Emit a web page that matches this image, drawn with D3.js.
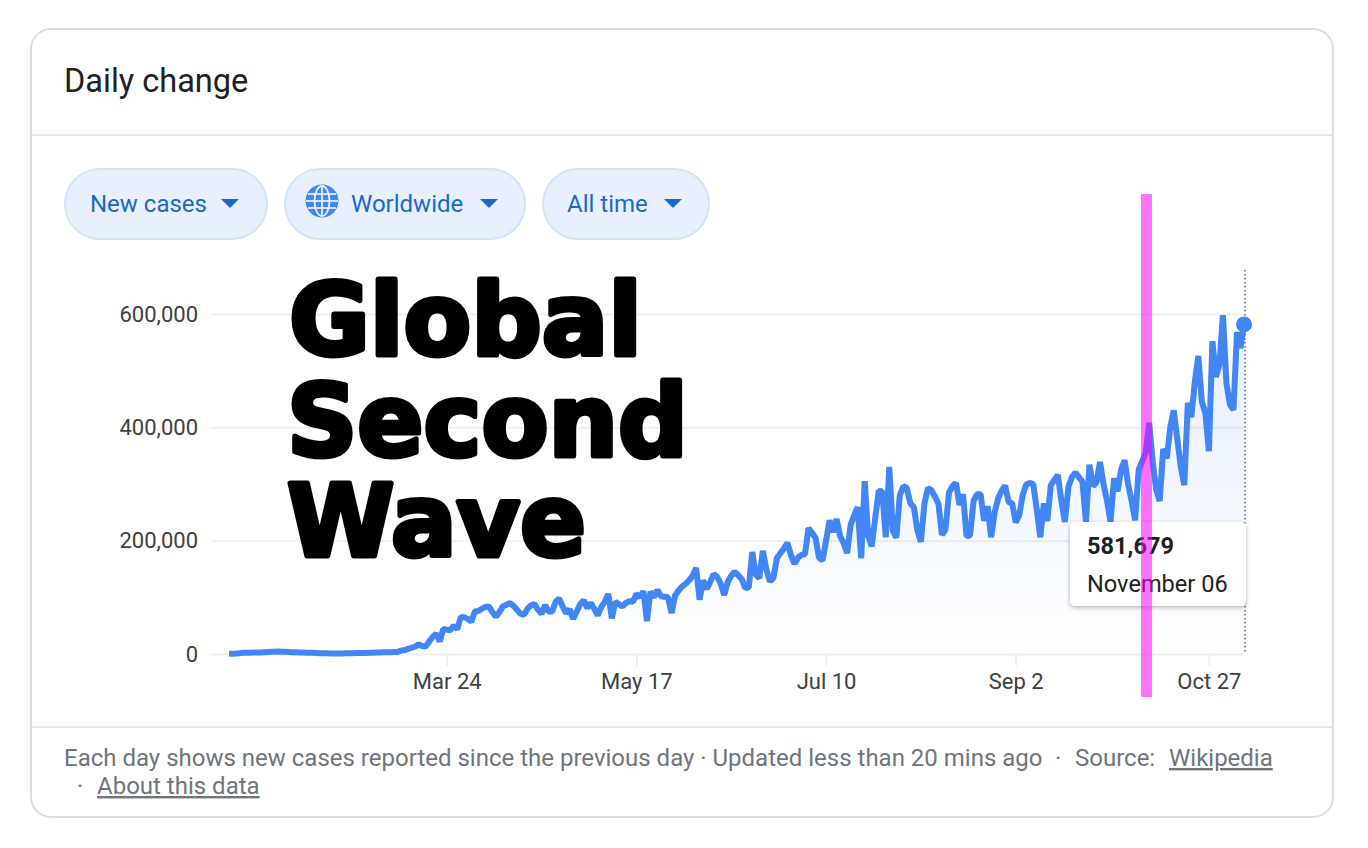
<!DOCTYPE html>
<html>
<head>
<meta charset="utf-8">
<script src="https://cdn.jsdelivr.net/npm/d3@7"></script>
<style>
  body { margin: 0; background: #fff; }
  text { font-family: Roboto, sans-serif; }
</style>
</head>
<body>
<div id="chart"></div>
<script>
// new cases per day in thousands, one value per day from the start date
var startDate = new Date(Date.UTC(2020, 0, 22));
var newCases = [
  0.6, 0.6, 0.9, 1.4, 2.1, 2.0, 2.1, 2.6, 2.6, 2.8,
  3.2, 3.6, 3.9, 3.9, 4.2, 4.0, 3.8, 3.5, 3.3, 3.1,
  2.8, 2.6, 2.4, 2.2, 2.0, 1.8, 1.5, 1.2, 1.2, 1.1,
  1.0, 1.0, 1.1, 1.2, 1.3, 1.5, 1.6, 1.7, 1.8, 1.9,
  2.1, 2.3, 2.5, 2.7, 2.9, 3.0, 3.2, 3.4, 3.5, 6,
  7, 9, 11, 13, 17, 14, 13, 22, 30, 36,
  22, 44, 43, 42, 50, 44, 65, 65, 62, 57,
  75, 76, 80, 83, 84, 74, 66, 74, 84, 87,
  90, 85, 78, 71, 69, 80, 86, 88, 78, 71,
  86, 75, 75, 92, 98, 84, 72, 79, 62, 75,
  88, 95, 81, 90, 80, 68, 83, 92, 106, 63,
  92, 88, 84, 90, 93, 92, 106, 100, 111, 58,
  110, 100, 113, 102, 101, 100, 72, 103, 112, 119,
  124, 130, 138, 152, 96, 130, 115, 127, 141, 136,
  124, 104, 127, 138, 145, 139, 132, 116, 118, 180,
  140, 134, 182, 150, 128, 134, 169, 178, 186, 196,
  175, 159, 170, 175, 176, 222, 214, 205, 170, 165,
  200, 236, 215, 238, 208, 196, 178, 228, 245, 259,
  169, 305, 208, 190, 240, 288, 287, 206, 330, 218,
  205, 280, 296, 293, 266, 259, 218, 198, 265, 293,
  289, 278, 265, 210, 220, 285, 296, 302, 263, 282,
  208, 209, 270, 282, 282, 235, 261, 206, 250, 275,
  288, 297, 268, 266, 232, 245, 281, 299, 302, 300,
  255, 206, 266, 235, 298, 307, 316, 270, 233, 295,
  312, 320, 312, 304, 233, 334, 296, 303, 339, 300,
  270, 233, 310, 287, 325, 342, 300, 270, 236, 325,
  340, 355, 408, 340, 290, 270, 362, 345, 400, 430,
  380, 330, 298, 443, 418, 480, 526, 445, 425, 358,
  552, 489, 510, 598, 478, 440, 431, 568, 540, 581.679
];
var yTicks = [0, 200, 400, 600];
var xTicks = [
  new Date(Date.UTC(2020, 2, 24)),
  new Date(Date.UTC(2020, 4, 17)),
  new Date(Date.UTC(2020, 6, 10)),
  new Date(Date.UTC(2020, 8, 2)),
  new Date(Date.UTC(2020, 9, 27))
];
var chipLabels = ["New cases", "Worldwide", "All time"];
var overlayWords = ["Global", "Second", "Wave"];
var tooltipLines = ["581,679", "November 06"];

var blue = "#4285f4";
var chipBlue = "#1967d2";

var svg = d3.select("#chart").append("svg")
  .attr("width", 1368)
  .attr("height", 848)
  .style("display", "block");

// card frame and the two dividers
svg.append("rect")
  .attr("x", 31).attr("y", 29)
  .attr("width", 1302).attr("height", 788)
  .attr("rx", 20)
  .attr("fill", "#fff")
  .attr("stroke", "#dadce0")
  .attr("stroke-width", 2);
svg.append("line").attr("x1", 32).attr("x2", 1332).attr("y1", 135).attr("y2", 135)
  .attr("stroke", "#e3e5e8").attr("stroke-width", 2);
svg.append("line").attr("x1", 32).attr("x2", 1332).attr("y1", 727).attr("y2", 727)
  .attr("stroke", "#e3e5e8").attr("stroke-width", 2);

svg.append("text")
  .attr("x", 64).attr("y", 92)
  .attr("font-size", 32.5)
  .attr("fill", "#202124")
  .text("Daily change");

// chips
function drawChip(left, right, textX, triangleX, label) {
  svg.append("rect")
    .attr("x", left).attr("y", 169)
    .attr("width", right - left).attr("height", 70)
    .attr("rx", 35)
    .attr("fill", "#e8f0fe")
    .attr("stroke", "#d2e3fc")
    .attr("stroke-width", 2);
  svg.append("text")
    .attr("x", textX).attr("y", 212)
    .attr("font-size", 24)
    .attr("fill", chipBlue)
    .text(label);
  svg.append("path")
    .attr("d", "M" + triangleX + ",199 h18 l-9,9 z")
    .attr("fill", chipBlue);
}
drawChip(65, 267, 90, 221, chipLabels[0]);
drawChip(285, 525, 351, 480, chipLabels[1]);
drawChip(543, 709, 567, 664, chipLabels[2]);

// globe icon on the second chip
var globe = svg.append("g").attr("transform", "translate(322,201)");
globe.append("circle").attr("r", 16.5).attr("fill", blue);
globe.append("ellipse").attr("rx", 7.5).attr("ry", 15)
  .attr("fill", "none").attr("stroke", "#e8f0fe").attr("stroke-width", 1.8);
globe.append("line").attr("y1", -15).attr("y2", 15)
  .attr("stroke", "#e8f0fe").attr("stroke-width", 1.8);
globe.append("line").attr("x1", -16).attr("x2", 16)
  .attr("stroke", "#e8f0fe").attr("stroke-width", 1.8);
globe.append("line").attr("x1", -14).attr("x2", 14).attr("y1", -7).attr("y2", -7)
  .attr("stroke", "#e8f0fe").attr("stroke-width", 1.8);
globe.append("line").attr("x1", -14).attr("x2", 14).attr("y1", 7).attr("y2", 7)
  .attr("stroke", "#e8f0fe").attr("stroke-width", 1.8);

// scales
var endDate = d3.utcDay.offset(startDate, newCases.length - 1);
var x = d3.scaleUtc().domain([startDate, endDate]).range([229, 1244]);
var y = d3.scaleLinear().domain([0, 600]).range([654, 314]);

var points = newCases.map(function(d, i) {
  return { date: d3.utcDay.offset(startDate, i), value: d };
});

// axes
var yAxis = d3.axisLeft(y)
  .tickValues(yTicks)
  .tickSize(1244 - 211)
  .tickPadding(13)
  .tickFormat(function(d) { return d3.format(",")(d * 1000); });
var yGroup = svg.append("g").attr("transform", "translate(1244,0)").call(yAxis);
yGroup.select(".domain").remove();
yGroup.selectAll("line").attr("stroke", "#eeeff1").attr("stroke-width", 2);
yGroup.selectAll("text")
  .attr("font-size", 22)
  .attr("font-family", "Roboto, sans-serif")
  .attr("fill", "#3c4043");

var xAxis = d3.axisBottom(x)
  .tickValues(xTicks)
  .tickSize(12)
  .tickPadding(7)
  .tickFormat(d3.utcFormat("%b %-d"));
var xGroup = svg.append("g").attr("transform", "translate(0,654)").call(xAxis);
xGroup.select(".domain").remove();
xGroup.selectAll("line").attr("stroke", "#eeeff1").attr("stroke-width", 2);
xGroup.selectAll("text")
  .attr("font-size", 22)
  .attr("font-family", "Roboto, sans-serif")
  .attr("fill", "#3c4043");

// area under the line fades out to the bottom
var gradient = svg.append("defs").append("linearGradient")
  .attr("id", "areaFade")
  .attr("gradientUnits", "userSpaceOnUse")
  .attr("x1", 0).attr("x2", 0)
  .attr("y1", y(600)).attr("y2", y(0));
gradient.append("stop").attr("offset", 0).attr("stop-color", blue).attr("stop-opacity", 0.13);
gradient.append("stop").attr("offset", 1).attr("stop-color", blue).attr("stop-opacity", 0.01);

var area = d3.area()
  .x(function(d) { return x(d.date); })
  .y0(y(0))
  .y1(function(d) { return y(d.value); });
var line = d3.line()
  .x(function(d) { return x(d.date); })
  .y(function(d) { return y(d.value); });

svg.append("path").datum(points)
  .attr("d", area)
  .attr("fill", "url(#areaFade)");

// dotted marker at the last day
var last = points[points.length - 1];
svg.append("line")
  .attr("x1", x(last.date) + 1).attr("x2", x(last.date) + 1)
  .attr("y1", 270).attr("y2", y(0))
  .attr("stroke", "#5f6368")
  .attr("stroke-width", 1.5)
  .attr("stroke-dasharray", "1.5,2.5");

svg.append("path").datum(points)
  .attr("d", line)
  .attr("fill", "none")
  .attr("stroke", blue)
  .attr("stroke-width", 6)
  .attr("stroke-linejoin", "bevel");

svg.append("circle")
  .attr("cx", x(last.date)).attr("cy", y(last.value))
  .attr("r", 8)
  .attr("fill", blue);

// tooltip
var filter = svg.select("defs").append("filter")
  .attr("id", "tipShadow")
  .attr("x", "-10%").attr("y", "-20%")
  .attr("width", "120%").attr("height", "140%");
filter.append("feDropShadow")
  .attr("dx", 0).attr("dy", 1.5)
  .attr("stdDeviation", 2)
  .attr("flood-color", "#3c4043")
  .attr("flood-opacity", 0.4);
svg.append("rect")
  .attr("x", 1070).attr("y", 522)
  .attr("width", 176).attr("height", 84)
  .attr("rx", 5)
  .attr("fill", "#fff")
  .attr("filter", "url(#tipShadow)");
svg.append("text")
  .attr("x", 1087).attr("y", 554)
  .attr("font-size", 23.6)
  .attr("font-weight", 700)
  .attr("fill", "#202124")
  .text(tooltipLines[0]);
svg.append("text")
  .attr("x", 1087).attr("y", 592)
  .attr("font-size", 23.6)
  .attr("fill", "#202124")
  .text(tooltipLines[1]);

// big overlay words, stroked to get the heavy rounded look
var wordLefts = [289, 287, 287];
var wordBaselines = [355, 456, 556];
var wordWidths = [353, 401, 299];
overlayWords.forEach(function(word, i) {
  svg.append("text")
    .attr("x", wordLefts[i]).attr("y", wordBaselines[i])
    .attr("textLength", wordWidths[i])
    .attr("lengthAdjust", "spacingAndGlyphs")
    .style("font-family", "'DejaVu Sans', sans-serif")
    .attr("font-size", 100)
    .attr("font-weight", 700)
    .attr("fill", "#000")
    .attr("stroke", "#000")
    .attr("stroke-width", 5)
    .attr("stroke-linejoin", "round")
    .text(word);
});

// footer
function footerText(xPos, yPos, str, underline) {
  svg.append("text")
    .attr("x", xPos).attr("y", yPos)
    .attr("font-size", 24)
    .attr("fill", "#70757a")
    .attr("text-decoration", underline ? "underline" : null)
    .text(str);
}
footerText(64, 766, "Each day shows new cases reported since the previous day · Updated less than 20 mins ago", false);
footerText(1055, 766, "·", false);
footerText(1075, 766, "Source:", false);
footerText(1169, 766, "Wikipedia", true);
footerText(77, 794, "·", false);
footerText(97, 794, "About this data", true);

// magenta highlight bar on top of everything
svg.append("rect")
  .attr("x", 1141).attr("y", 194)
  .attr("width", 11).attr("height", 503)
  .attr("fill", "#ff00ff")
  .attr("opacity", 0.55);
</script>
</body>
</html>
